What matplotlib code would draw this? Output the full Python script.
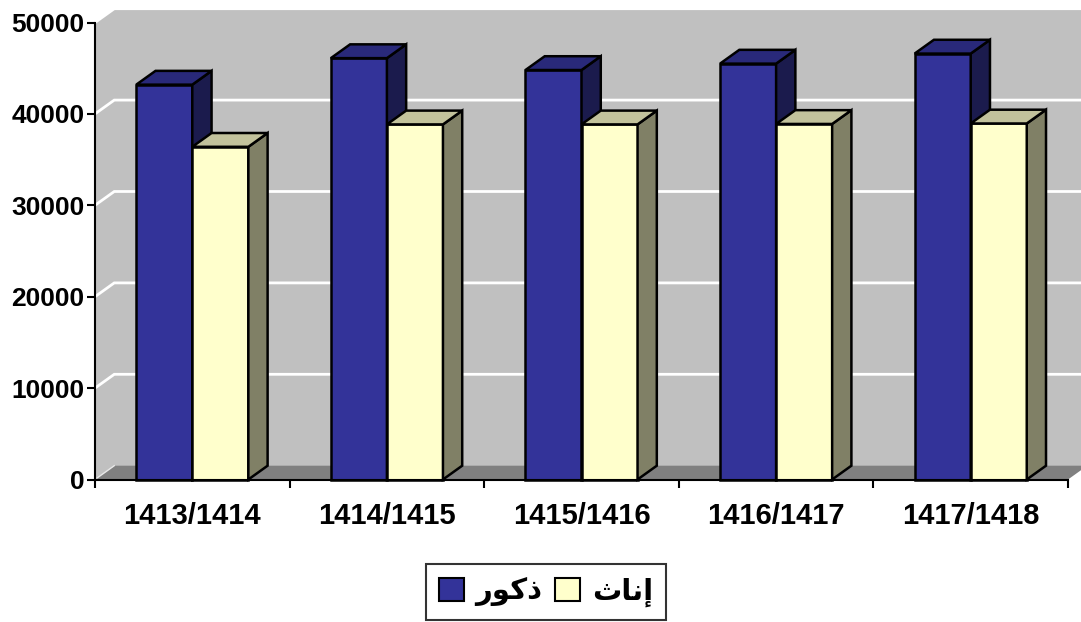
import matplotlib
matplotlib.use("Agg")
import matplotlib.pyplot as plt
from matplotlib.patches import Polygon, Rectangle, Patch

# the data
years = ['1413/1414', '1414/1415', '1415/1416', '1416/1417', '1417/1418']
male = [43200, 46100, 44800, 45500, 46600]
female = [36400, 38850, 38850, 38900, 38950]
# Arabic labels written in visual order with presentation forms
male_label = '\uFEAD\uFEEE\uFEDB\uFEAB'      # ذكور
female_label = '\uFE99\uFE8E\uFEE7\uFE87'    # إناث

ymax = 50000
n = len(years)
bw = 0.288          # bar width (category units)
dx = 0.099          # depth offset x (category units)
dy = 1510           # depth offset y (value units)

fig = plt.figure(figsize=(10.81, 6.22), dpi=100)
ax = fig.add_axes([95 / 1081, (622 - 479.5) / 622, 973 / 1081, 457 / 622])
ax.set_xlim(0, n)
ax.set_ylim(0, ymax)

def poly(pts, fc, ec='none', lw=0, z=1):
    ax.add_patch(Polygon(pts, closed=True, facecolor=fc, edgecolor=ec,
                         linewidth=lw, zorder=z, clip_on=False,
                         joinstyle='miter'))

# walls and floor
ax.add_patch(Rectangle((dx, dy), n, ymax, facecolor='#c0c0c0',
                       edgecolor='none', zorder=0, clip_on=False))
poly([(0, 0), (dx, dy), (dx, ymax + dy), (0, ymax)], '#c0c0c0', z=0)
poly([(0, 0), (n, 0), (n + dx, dy), (dx, dy)], '#808080', z=0.5)
ax.plot([0.01, dx], [150, dy], color='#e8e8e8', lw=1, zorder=0.6,
        clip_on=False)

# gridlines on the walls
for v in range(10000, ymax + 1, 10000):
    ax.plot([0, dx, n + dx], [v, v + dy, v + dy], color='white', lw=2,
            zorder=0.4, clip_on=False, solid_joinstyle='miter')

# 3d bars
def bar3d(x0, h, front, top, side):
    ec = 'black'
    lw = 1.8
    poly([(x0, 0), (x0 + bw, 0), (x0 + bw, h), (x0, h)], front, ec, lw, 3)
    poly([(x0 + bw, 0), (x0 + bw + dx, dy), (x0 + bw + dx, h + dy),
          (x0 + bw, h)], side, ec, lw, 3)
    poly([(x0, h), (x0 + bw, h), (x0 + bw + dx, h + dy), (x0 + dx, h + dy)],
         top, ec, lw, 3)

for i in range(n):
    c = i + 0.5
    bar3d(c - bw, male[i], '#333399', '#29297a', '#1b1b4d')
    bar3d(c, female[i], '#ffffcc', '#c2c29c', '#808066')

# axes
for s in ['top', 'right']:
    ax.spines[s].set_visible(False)
for s in ['left', 'bottom']:
    ax.spines[s].set_linewidth(1.5)
    ax.spines[s].set_zorder(4)
ax.set_yticks(range(0, ymax + 1, 10000))
ax.set_xticks(range(n + 1))
ax.set_xticklabels([])
ax.set_xticks([i + 0.5 for i in range(n)], minor=True)
ax.set_xticklabels(years, minor=True)
ax.tick_params(axis='both', which='major', direction='out', length=6,
               width=1.5)
ax.tick_params(axis='y', pad=1.5)
ax.tick_params(axis='x', which='minor', length=0, pad=16)
for lab in ax.get_yticklabels():
    lab.set_fontfamily('Liberation Sans')
    lab.set_fontweight('bold')
    lab.set_fontsize(19)
for lab in ax.get_xticklabels(minor=True):
    lab.set_fontfamily('Liberation Sans')
    lab.set_fontweight('bold')
    lab.set_fontsize(21)

# legend
handles = [Patch(facecolor='#333399', edgecolor='black', linewidth=1.5,
                 label=male_label),
           Patch(facecolor='#ffffcc', edgecolor='black', linewidth=1.5,
                 label=female_label)]
leg = fig.legend(handles=handles, loc='center', ncol=2,
                 bbox_to_anchor=(546 / 1081, (622 - 592) / 622),
                 frameon=True, fancybox=False, edgecolor='black',
                 prop={'family': ['DejaVu Sans'], 'weight': 'bold',
                       'size': 21},
                 handlelength=0.85, handleheight=0.85, handletextpad=0.4,
                 columnspacing=0.45, borderpad=0.45, borderaxespad=0)
leg.get_frame().set_linewidth(1.5)

fig.savefig('out.png', dpi=100)
